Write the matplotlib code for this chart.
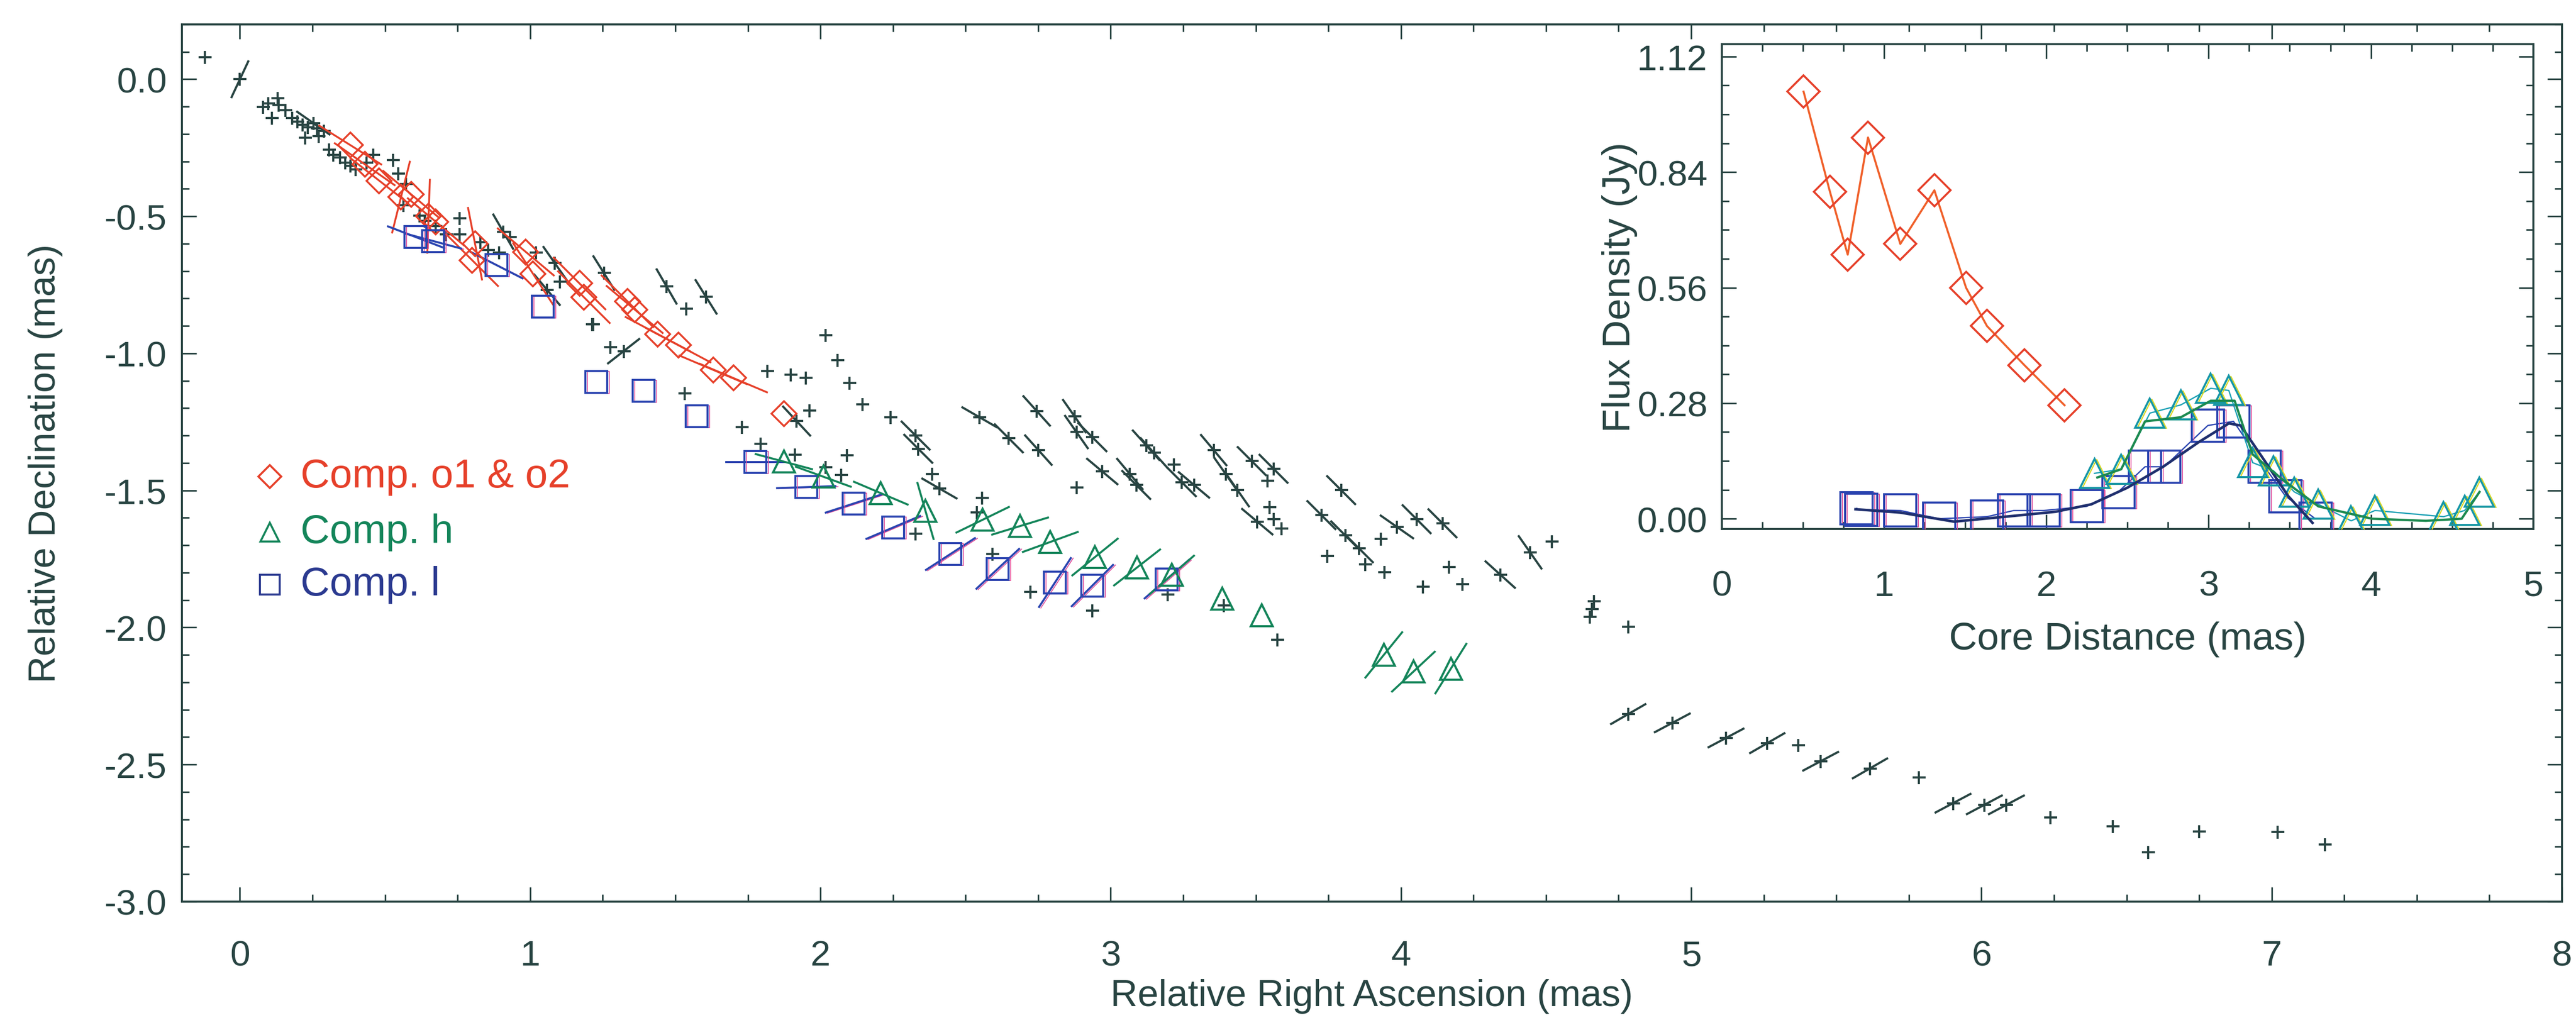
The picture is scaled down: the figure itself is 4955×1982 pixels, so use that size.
import numpy as np
import matplotlib
matplotlib.use("Agg")
import matplotlib.pyplot as plt
from matplotlib.collections import LineCollection
from matplotlib.ticker import MultipleLocator, FormatStrFormatter
from matplotlib import transforms

plt.rcParams['font.family'] = ['Liberation Sans', 'DejaVu Sans']
plt.rcParams['axes.unicode_minus'] = False

ink = '#284442'
red = '#e6402a'
green = '#14855a'
blue = '#2a44b0'
ghost = '#e04a98'

# ---- main panel: model-fit components (RA, Dec in mas) ----
# plain black crosses
cross_x = [-0.12, 0.079, 0.097, 0.111, 0.129, 0.134, 0.157, 0.18, 0.198, 0.216, 0.234, 0.266,
           0.225, 0.271, 0.29, 0.308, 0.322, 0.345, 0.362, 0.381, 0.399, 0.436, 0.459, 0.527,
           0.545, 0.573, 0.564, 0.619, 0.637, 0.674, 0.71, 0.756, 0.756, 0.829, 0.856, 0.893,
           0.93, 1.02, 1.103, 1.213, 1.538, 1.217, 1.277, 1.532, 2.018, 2.059, 2.10, 2.145,
           2.242, 1.817, 1.898, 1.949, 1.962, 1.729, 1.794, 1.912, 2.091, 2.018, 2.072, 2.384,
           2.328, 2.557, 2.539, 2.593, 2.882, 3.218, 3.54, 3.547, 3.561, 3.588, 3.746, 3.876,
           3.944, 3.93, 4.165, 4.075, 4.211, 4.52, 4.665, 4.658, 4.65, 2.724, 2.937, 3.197,
           3.389, 3.575, 4.783, 5.369, 5.784, 6.238, 6.452, 6.575, 6.75, 7.02, 7.183]
cross_y = [0.08, -0.102, -0.088, -0.141, -0.069, -0.093, -0.112, -0.141, -0.155, -0.165, -0.175, -0.18,
           -0.213, -0.208, -0.189, -0.256, -0.276, -0.286, -0.305, -0.315, -0.329, -0.305, -0.276, -0.295,
           -0.344, -0.382, -0.459, -0.498, -0.517, -0.536, -0.565, -0.507, -0.565, -0.594, -0.623, -0.633,
           -0.575, -0.633, -0.739, -0.893, -0.837, -0.894, -0.977, -1.146, -0.934, -1.024, -1.108, -1.185,
           -1.233, -1.064, -1.078, -1.089, -1.208, -1.27, -1.329, -1.369, -1.372, -1.416, -1.444, -1.44,
           -1.658, -1.527, -1.58, -1.732, -1.49, -1.406, -1.465, -1.561, -1.605, -1.639, -1.739, -1.769,
           -1.798, -1.677, -1.779, -1.851, -1.841, -1.686, -1.904, -1.932, -1.962, -1.87, -1.938, -1.879,
           -1.919, -2.044, -1.998, -2.429, -2.548, -2.693, -2.726, -2.82, -2.745, -2.746, -2.792]

# black crosses with elongation bar (angle in degrees)
barc_x = [0.0, 0.253, 0.907, 1.085, 1.058, 1.254, 1.47, 1.606, 1.322, 1.918, 2.328, 2.337, 2.41,
          2.548, 2.745, 2.875, 2.649, 2.751, 2.882, 2.937, 2.971, 3.066, 3.088, 3.122, 3.149,
          3.245, 3.287, 3.355, 3.396, 3.437, 3.486, 3.561, 3.505, 3.794, 3.726, 3.808, 3.855,
          3.986, 4.054, 4.143, 4.342, 4.445, 4.783, 4.935, 5.12, 5.262, 5.446, 5.616, 5.902,
          6.01, 6.086]
barc_y = [0.0, -0.16, -0.556, -0.671, -0.768, -0.707, -0.756, -0.794, -0.992, -1.247, -1.30, -1.348, -1.493,
          -1.233, -1.21, -1.229, -1.31, -1.353, -1.287, -1.306, -1.431, -1.44, -1.48, -1.335, -1.363,
          -1.47, -1.48, -1.353, -1.44, -1.499, -1.393, -1.421, -1.614, -1.499, -1.59, -1.664, -1.711,
          -1.633, -1.605, -1.62, -1.807, -1.726, -2.316, -2.348, -2.403, -2.422, -2.488, -2.514, -2.641,
          -2.647, -2.647]
barc_ang = [65, -35, -60, -55, -50, -58, -60, -58, 38, -47, -45, -45, -30,
            -30, -48, -55, -45, -48, -55, -45, -40, -50, -45, -48, -48,
            -45, -40, -50, -55, -55, -45, -45, -40, -45, -45, -45, -45,
            -35, -45, -45, -42, -55, 30, 28, 28, 30, 28, 30, 28,
            28, 28]

nan = float('nan')
# Comp. o1 & o2
o_x = [0.38, 0.43, 0.48, 0.555, 0.59, 0.65, 0.675, 0.81, 0.80, 0.985, 1.01, 1.17, 1.185, 1.335,
       1.36, 1.44, 1.51, 1.63, 1.70, 1.875]
o_y = [-0.24, -0.31, -0.37, -0.43, -0.42, -0.50, -0.52, -0.60, -0.66, -0.63, -0.71, -0.745, -0.795, -0.81,
       -0.84, -0.93, -0.97, -1.06, -1.09, -1.22]
o_ang = [-32, -35, -38, 76, -40, 88, -40, -79, -45, -40, -57, -45, -45, -45,
         -40, -28, -28, -23, -23, nan]

# Comp. h
h_x = [1.874, 2.01, 2.208, 2.362, 2.559, 2.688, 2.792, 2.946, 3.091, 3.211, 3.384, 3.52, 3.941, 4.043, 4.172]
h_y = [-1.395, -1.45, -1.51, -1.575, -1.607, -1.63, -1.688, -1.743, -1.781, -1.808, -1.894, -1.955, -2.10, -2.161, -2.15]
h_ang = [-15, -20, -23, -74, 26, 17, 20, 39, 38, 41, nan, nan, 51, 43, 58]

# Comp. l
l_x = [0.604, 0.665, 0.884, 1.043, 1.228, 1.391, 1.573, 1.776, 1.951, 2.114, 2.251, 2.448, 2.611, 2.808, 2.937, 3.193]
l_y = [-0.575, -0.59, -0.678, -0.83, -1.104, -1.136, -1.23, -1.397, -1.488, -1.548, -1.635, -1.732, -1.786, -1.836, -1.847, -1.824]
l_ang = [-21, -15, -27, nan, nan, nan, nan, 0, 2, 18, 23, 33, 43, 57, 45, 41]

# ---- inset: flux density vs core distance ----
fo_r = [0.504, 0.666, 0.776, 0.901, 1.10, 1.31, 1.505, 1.634, 1.865, 2.112]
fo_s = [1.035, 0.793, 0.64, 0.924, 0.666, 0.796, 0.56, 0.467, 0.372, 0.275]

fl_r = [0.83, 0.86, 1.10, 1.339, 1.634, 1.80, 1.983, 2.248, 2.443, 2.608, 2.726, 2.995, 3.153, 3.344, 3.473, 3.657]
fl_s = [0.025, 0.022, 0.02, 0.0, 0.005, 0.02, 0.02, 0.03, 0.065, 0.126, 0.126, 0.226, 0.236, 0.126, 0.055, 0.0]
fl_smooth_r = [0.824, 1.10, 1.431, 1.80, 2.057, 2.277, 2.498, 2.719, 2.94, 3.124, 3.197, 3.344, 3.49, 3.64]
fl_smooth_s = [0.023, 0.015, -0.007, 0.007, 0.017, 0.035, 0.075, 0.126, 0.186, 0.231, 0.226, 0.141, 0.055, -0.01]

fh_r = [2.296, 2.461, 2.638, 2.829, 3.013, 3.124, 3.271, 3.40, 3.528, 3.676, 3.878, 4.025, 4.448, 4.577, 4.669]
fh_s = [0.11, 0.12, 0.256, 0.276, 0.316, 0.311, 0.136, 0.116, 0.065, 0.035, -0.005, 0.02, 0.005, 0.02, 0.065]
fh_smooth_r = [2.314, 2.461, 2.608, 2.829, 3.013, 3.16, 3.271, 3.455, 3.676, 4.007, 4.338, 4.559, 4.669]
fh_smooth_s = [0.10, 0.12, 0.236, 0.246, 0.286, 0.286, 0.156, 0.095, 0.03, 0.0, -0.005, 0.0, 0.065]


def draw_bars(ax, xs, ys, angs, half_px, **kw):
    bb = ax.get_window_extent()
    x0, x1 = ax.get_xlim()
    y0, y1 = ax.get_ylim()
    sx = bb.width / (x1 - x0)
    sy = bb.height / (y1 - y0)
    segs = []
    for x, y, a in zip(xs, ys, angs):
        if np.isnan(a):
            continue
        t = np.radians(a)
        dx = half_px * np.cos(t) / sx
        dy = half_px * np.sin(t) / sy
        segs.append([(x - dx, y - dy), (x + dx, y + dy)])
    ax.add_collection(LineCollection(segs, **kw))


def style_axes(ax, xpad, ypad, size):
    for s in ax.spines.values():
        s.set_color(ink)
        s.set_linewidth(2.8)
    ax.tick_params(which='both', direction='in', top=True, right=True, colors=ink, width=2.2)
    ax.tick_params(which='major', length=20)
    ax.tick_params(which='minor', length=10)
    ax.tick_params(axis='x', which='major', pad=xpad, labelsize=size, labelcolor=ink)
    ax.tick_params(axis='y', which='major', pad=ypad, labelsize=size, labelcolor=ink)


fig = plt.figure(figsize=(49.55, 19.83), dpi=100)
ax = fig.add_axes([0.0706, 0.1246, 0.92395, 0.8512])
ax.set_xlim(-0.2, 8)
ax.set_ylim(-3.0, 0.2)
ax.set_xticks(range(0, 9))
ax.set_yticks(np.arange(-3.0, 0.01, 0.5))
ax.xaxis.set_minor_locator(MultipleLocator(0.25))
ax.yaxis.set_minor_locator(MultipleLocator(0.1))
ax.yaxis.set_major_formatter(FormatStrFormatter('%.1f'))
style_axes(ax, 52, 21, 50)
ax.set_xlabel('Relative Right Ascension (mas)', fontsize=52, color=ink)
ax.set_ylabel('Relative Declination (mas)', fontsize=52, color=ink)
ax.xaxis.set_label_coords(0.5, -0.088)
ax.yaxis.set_label_coords(-0.050, 0.5)

ghost_tr = transforms.offset_copy(ax.transData, fig=fig, x=4, y=-1, units='dots')

# black components
draw_bars(ax, barc_x, barc_y, barc_ang, 40, colors=ink, linewidths=3.0, zorder=2)
ax.plot(cross_x + barc_x, cross_y + barc_y, '+', color=ink, ms=18, mew=3.0, zorder=2)

# coloured components
draw_bars(ax, o_x, o_y, o_ang, 72, colors=red, linewidths=2.6, zorder=3)
ax.plot(o_x, o_y, 'D', ms=24, mfc='none', mec=red, mew=2.6, zorder=4)

draw_bars(ax, l_x, l_y, l_ang, 58, colors=ghost, linewidths=1.2, zorder=3,
          transform=ghost_tr)
draw_bars(ax, l_x, l_y, l_ang, 58, colors=blue, linewidths=2.8, zorder=3)
ax.plot(l_x, l_y, 's', ms=30, mfc='none', mec=ghost, mew=1.2, zorder=4, transform=ghost_tr)
ax.plot(l_x, l_y, 's', ms=30, mfc='none', mec=blue, mew=2.8, zorder=4)

draw_bars(ax, h_x, h_y, h_ang, 58, colors=green, linewidths=2.8, zorder=3)
ax.plot(h_x, h_y, '^', ms=30, mfc='none', mec=green, mew=3.0, zorder=4)

# legend drawn by hand
leg = [('D', 22, red, 'Comp. o1 & o2', 0.4846),
       ('^', 26, green, 'Comp. h', 0.4212),
       ('s', 27, '#2b3a90', 'Comp. l', 0.3614)]
for mk, ms, col, txt, yy in leg:
    ax.plot([0.0369], [yy], mk, ms=ms, mfc='none', mec=col, mew=2.8, transform=ax.transAxes)
    ax.text(0.0498, yy, txt, color=col, fontsize=56, va='center', ha='left',
            transform=ax.transAxes)

# ---- inset ----
ins = fig.add_axes([0.6684, 0.4861, 0.3150, 0.4705])
ins.set_facecolor('white')
ins.set_zorder(5)
ins.set_xlim(0, 5)
ins.set_ylim(-0.025, 1.15)
ins.set_xticks(range(0, 6))
ins.set_yticks([0.0, 0.28, 0.56, 0.84, 1.12])
ins.xaxis.set_minor_locator(MultipleLocator(0.25))
ins.yaxis.set_minor_locator(MultipleLocator(0.07))
ins.yaxis.set_major_formatter(FormatStrFormatter('%.2f'))
style_axes(ins, 56, 20, 50)
ins.set_xlabel('Core Distance (mas)', fontsize=54, color=ink)
ins.set_ylabel('Flux Density (Jy)', fontsize=54, color=ink)
ins.xaxis.set_label_coords(0.5, -0.19)
ins.yaxis.set_label_coords(-0.104, 0.5)

ig_tr = transforms.offset_copy(ins.transData, fig=fig, x=4, y=-1, units='dots')

ins.plot(fl_r, fl_s, '-', color=blue, lw=1.8, zorder=2)
ins.plot(fl_r, fl_s, 's', ms=44, mfc='none', mec=ghost, mew=1.2, zorder=3, transform=ig_tr)
ins.plot(fl_r, fl_s, 's', ms=44, mfc='none', mec=blue, mew=2.8, zorder=3)
ins.plot(fl_smooth_r, fl_smooth_s, '-', color='#1f2f6e', lw=3.6, zorder=4)

ins.plot(fh_r, fh_s, '-', color='#1aa0b4', lw=1.8, zorder=2)
ins.plot(fh_r, fh_s, '^', ms=40, mfc='none', mec='#d8d820', mew=1.6, zorder=3, transform=ig_tr)
ins.plot(fh_r, fh_s, '^', ms=40, mfc='none', mec='#1596a6', mew=2.8, zorder=3)
ins.plot(fh_smooth_r, fh_smooth_s, '-', color='#1c8a50', lw=3.2, zorder=4)

ins.plot(fo_r, fo_s, '-', color='#f0602a', lw=2.8, zorder=4)
ins.plot(fo_r, fo_s, 'D', ms=32, mfc='none', mec=red, mew=2.8, zorder=5)

fig.savefig('out.png', dpi=100, facecolor='white')
